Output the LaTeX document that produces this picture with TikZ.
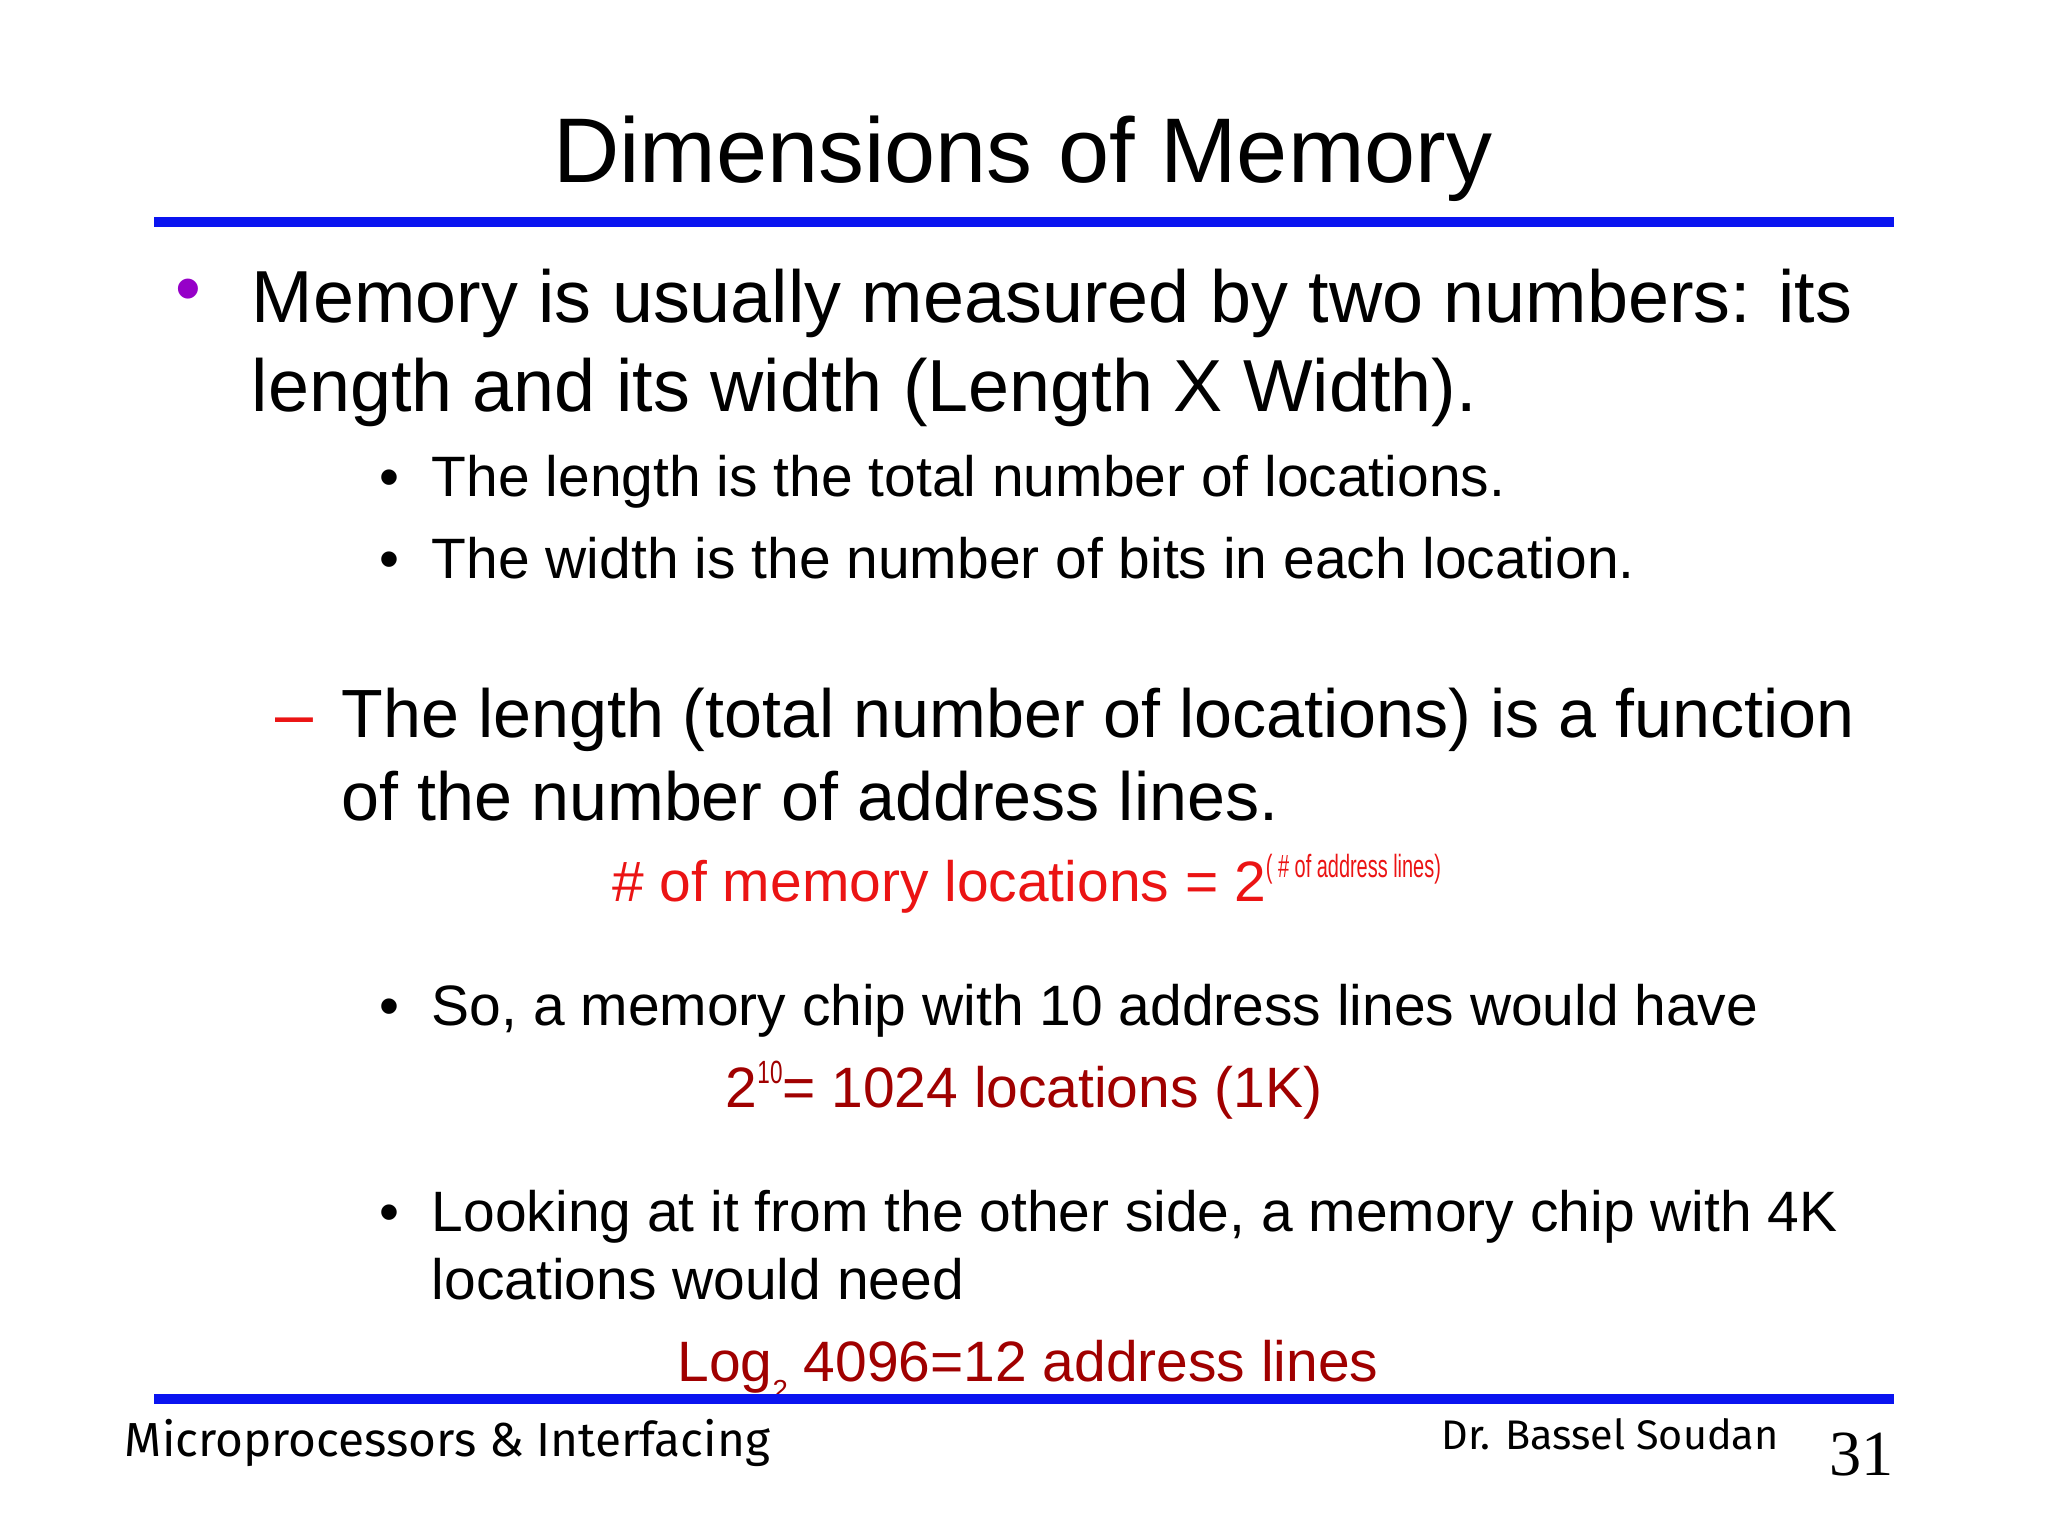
\documentclass[tikz,border=0pt]{standalone}
\usepackage{fontspec}
\usepackage{graphicx}
\setmainfont{Liberation Sans}
\newfontfamily\ftr{Fira Sans}
\newfontfamily\numf{Liberation Serif}
\definecolor{bblue}{RGB}{10,20,240}
\definecolor{dred}{RGB}{160,0,0}
\definecolor{rred}{RGB}{235,20,20}
\definecolor{purp}{RGB}{150,0,200}
\begin{document}
\begin{tikzpicture}[x=0.01cm,y=-0.01cm,
  t/.style={anchor=base west,inner sep=0pt},
  big/.style={t,font=\fontsize{16.05}{18}\selectfont},
  bigb/.style={t,font=\fontsize{14.85}{18}\selectfont},
  med/.style={t,font=\fontsize{12.4}{14}\selectfont}]
\useasboundingbox (0,0) rectangle (1568,1176);
\node[anchor=base,inner sep=0pt,font=\fontsize{20}{24}\selectfont] (title) at (783,140) {Dimensions of Memory};
\draw[bblue,line width=8*0.2845pt] (118,170) -- (1450,170);
\node[big,text=purp] (b1) at (134,240) {\textbullet};
\node[big] (l1) at (192,247) {Memory is usually measured by two numbers: its};
\node[big] (l2) at (192,315) {length and its width (Length X Width).};
\node[med] (s1b) at (290,380) {\textbullet};
\node[med] (s1) at (330,380) {The length is the total number of locations.};
\node[med] (s2b) at (290,443) {\textbullet};
\node[med] (s2) at (330,443) {The width is the number of bits in each location.};
\node[bigb,text=rred] (d) at (210,565) {--};
\node[bigb] (l3) at (261,565) {The length (total number of locations) is a function};
\node[bigb] (l4) at (261,628) {of the number of address lines.};
\node[med,text=rred] (f) at (468,690) {\# of memory locations = 2\raisebox{0.8ex}{\scalebox{0.62}[1]{\fontsize{7}{8}\selectfont( \# of address lines)}}};
\node[med] (s3b) at (290,785) {\textbullet};
\node[med] (s3) at (330,785) {So, a memory chip with 10 address lines would have};
\node[med,text=dred] (e1) at (555,848) {2\raisebox{0.8ex}{\scalebox{0.7}[1]{\fontsize{7}{7}\selectfont 10}}= 1024 locations (1K)};
\node[med] (s4b) at (290,943) {\textbullet};
\node[med] (s4) at (330,943) {Looking at it from the other side, a memory chip with 4K};
\node[med] (s4c) at (330,995) {locations would need};
\node[med,text=dred] (e2) at (518,1058) {Log\raisebox{-0.6ex}{\fontsize{6}{7}\selectfont 2} 4096=12 address lines};
\draw[bblue,line width=8*0.2845pt] (118,1071) -- (1450,1071);
\node[t,font=\ftr\fontsize{10.4}{12}\selectfont] (ft1) at (95,1115) {Microprocessors \& Interfacing};
\node[t,font=\ftr\fontsize{9}{11}\selectfont] (ft2) at (1103,1110) {Dr. Bassel Soudan};
\node[t,font=\numf\fontsize{14}{16}\selectfont] (pg) at (1400,1130) {31};
\end{tikzpicture}
\end{document}
